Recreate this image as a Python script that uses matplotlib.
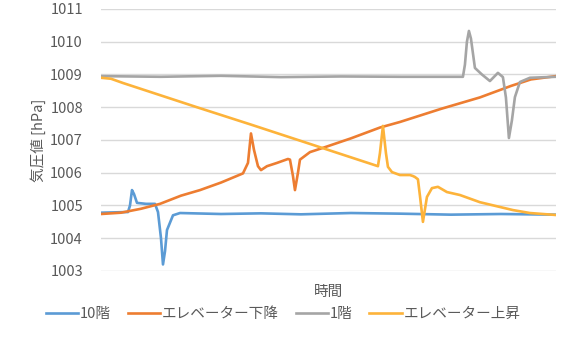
import matplotlib.pyplot as plt

plt.rcParams['font.family'] = ['Noto Sans CJK JP', 'DejaVu Sans']

# series: (time, hPa)
t_10f = [0, 27, 29, 31, 33, 36, 45, 54, 57, 60, 62, 64, 66, 72, 79, 120, 160, 200, 250, 300, 350, 400, 455]
p_10f = [1004.78, 1004.80, 1005.0, 1005.47, 1005.35, 1005.08, 1005.05, 1005.05, 1004.8, 1004.0,
         1003.2, 1003.6, 1004.25, 1004.7, 1004.77, 1004.74, 1004.76, 1004.73, 1004.77, 1004.75,
         1004.72, 1004.74, 1004.72]

t_down = [0, 20, 40, 59, 80, 99, 120, 142, 147, 150, 153, 157, 160, 166, 176, 187, 189, 192, 194,
          197, 199, 209, 222, 250, 279, 299, 340, 379, 410, 430, 455]
p_down = [1004.74, 1004.78, 1004.9, 1005.05, 1005.3, 1005.47, 1005.7, 1005.98, 1006.3, 1007.2,
          1006.7, 1006.2, 1006.08, 1006.2, 1006.3, 1006.42, 1006.4, 1005.9, 1005.47, 1006.0,
          1006.4, 1006.63, 1006.76, 1007.05, 1007.38, 1007.55, 1007.95, 1008.3, 1008.65, 1008.85,
          1008.95]

t_1f = [0, 60, 120, 180, 240, 300, 362, 364, 366, 368, 370, 374, 381, 389, 397, 402, 405, 408,
        411, 414, 419, 429, 455]
p_1f = [1008.95, 1008.93, 1008.96, 1008.92, 1008.94, 1008.93, 1008.93, 1009.3, 1010.0, 1010.33,
        1010.1, 1009.2, 1009.0, 1008.8, 1009.05, 1008.92, 1008.3, 1007.06, 1007.6, 1008.31,
        1008.77, 1008.9, 1008.93]

t_up = [0, 10, 22, 66, 96, 149, 222, 277, 279, 282, 285, 287, 291, 299, 309, 312, 314, 317, 319,
        322, 326, 331, 337, 346, 359, 379, 412, 429, 455]
p_up = [1008.9, 1008.87, 1008.74, 1008.3, 1008.0, 1007.48, 1006.75, 1006.2, 1006.6, 1007.43,
        1006.6, 1006.18, 1006.02, 1005.93, 1005.93, 1005.9, 1005.87, 1005.8, 1005.3, 1004.5,
        1005.26, 1005.53, 1005.57, 1005.41, 1005.32, 1005.1, 1004.86, 1004.77, 1004.71]

labels = ['10階', 'エレベーター下降', '1階', 'エレベーター上昇']
colors = ['#5B9BD5', '#ED7D31', '#A5A5A5', '#FDB33A']
yticks = [1003, 1004, 1005, 1006, 1007, 1008, 1009, 1010, 1011]

fig = plt.figure(figsize=(5.63, 3.46), dpi=100)
ax = fig.add_axes([0.1794, 0.2168, 0.808, 0.7572])

series = [(t_10f, p_10f), (t_down, p_down), (t_1f, p_1f), (t_up, p_up)]
for (t, p), lab, c in zip(series, labels, colors):
    ax.plot(t, p, color=c, lw=1.9, label=lab, solid_joinstyle='round')

ax.set_xlim(0, 455)
ax.set_ylim(1003, 1011)
ax.set_yticks(yticks)
ax.set_xticks([])
ax.grid(axis='y', color='#D9D9D9', lw=1)
ax.set_axisbelow(True)
for s in ax.spines.values():
    s.set_visible(False)
ax.tick_params(axis='y', length=0, pad=13, labelsize=10.5, labelcolor='#595959')

ax.set_ylabel('気圧値 [hPa]', fontsize=10.5, color='#595959', labelpad=3)
ax.set_xlabel('時間', fontsize=10.5, color='#595959', labelpad=10)

fig.legend(loc='center', bbox_to_anchor=(0.503, 0.093), ncol=4, frameon=False,
           fontsize=10.5, labelcolor='#595959', handlelength=2.2, handletextpad=0.15,
           columnspacing=1.15)

fig.savefig('out.png', dpi=100)
